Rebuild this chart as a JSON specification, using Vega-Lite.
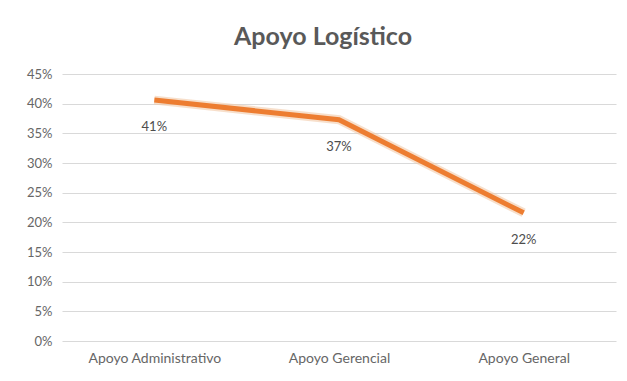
{
  "$schema": "https://vega.github.io/schema/vega-lite/v6.json",
  "autosize": "none",
  "width": 554,
  "height": 267,
  "padding": {"left": 62, "top": 74, "right": 11, "bottom": 40},
  "background": "white",
  "title": {
    "text": "Apoyo Logístico",
    "font": "Lato",
    "fontSize": 25,
    "fontWeight": "bold",
    "color": "#595959",
    "anchor": "middle",
    "frame": "group",
    "dx": -16,
    "offset": 18
  },
  "config": {
    "view": {"stroke": null},
    "font": "Lato"
  },
  "data": {
    "values": [
      {"categoria": "Apoyo Administrativo", "valor": 0.406},
      {"categoria": "Apoyo Gerencial", "valor": 0.373},
      {"categoria": "Apoyo General", "valor": 0.216}
    ]
  },
  "encoding": {
    "x": {
      "field": "categoria",
      "type": "nominal",
      "sort": null,
      "axis": {
        "title": null,
        "labelAngle": 0,
        "labelFont": "Lato",
        "labelFontSize": 14,
        "labelColor": "#666666",
        "domain": false,
        "ticks": false,
        "labelPadding": 10
      }
    },
    "y": {
      "field": "valor",
      "type": "quantitative",
      "scale": {"domain": [0, 0.45]},
      "axis": {
        "title": null,
        "format": ".0%",
        "values": [0, 0.05, 0.1, 0.15, 0.2, 0.25, 0.3, 0.35, 0.4, 0.45],
        "labelFont": "Lato",
        "labelFontSize": 13,
        "labelColor": "#666666",
        "domain": false,
        "ticks": false,
        "labelPadding": 10,
        "grid": true,
        "gridColor": "#D9D9D9",
        "gridWidth": 1
      }
    }
  },
  "layer": [
    {
      "mark": {"type": "line", "color": "#F2C9A8", "strokeWidth": 9, "opacity": 0.6}
    },
    {
      "mark": {"type": "line", "color": "#ED7D31", "strokeWidth": 5}
    },
    {
      "mark": {"type": "text", "dy": 27, "fontSize": 13, "font": "Lato", "color": "#4D4D4D"},
      "encoding": {
        "text": {"field": "valor", "type": "quantitative", "format": ".0%"}
      }
    }
  ]
}
